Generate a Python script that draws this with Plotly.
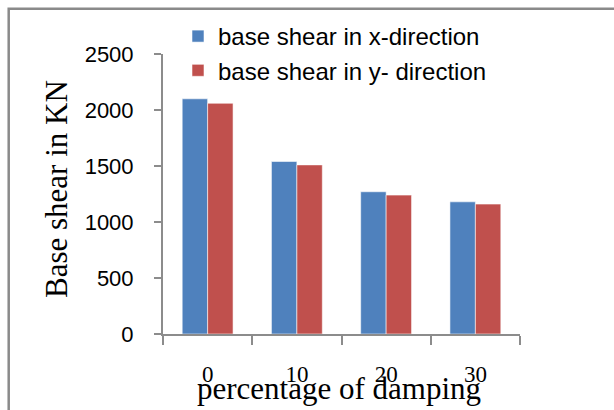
import plotly.graph_objects as go

# Base shear versus percentage of damping
damping = ["0", "10", "20", "30"]
shear_x = [2100, 1540, 1270, 1180]
shear_y = [2060, 1510, 1240, 1160]
y_ticks = [0, 500, 1000, 1500, 2000, 2500]

W, H = 614, 410
L, R, T, B = 163, 94, 54, 76
PW, PH = W - L - R, H - T - B


def px(x):
    return (x - L) / PW


def py(y):
    return (H - B - y) / PH


sans = "Liberation Sans, Arial, sans-serif"
serif = "Liberation Serif, Times New Roman, serif"
axis_grey = "#8c8c8c"

fig = go.Figure()
fig.add_trace(go.Bar(
    x=damping, y=shear_x, name="base shear in x-direction",
    marker=dict(color="#4F81BD", line=dict(color="rgba(255,255,255,0.55)", width=1)),
))
fig.add_trace(go.Bar(
    x=damping, y=shear_y, name="base shear in y- direction",
    marker=dict(color="#C0504D", line=dict(color="rgba(255,255,255,0.55)", width=1)),
))

fig.update_layout(
    width=W, height=H,
    margin=dict(l=L, r=R, t=T, b=B, autoexpand=False),
    paper_bgcolor="white", plot_bgcolor="white",
    barmode="group", bargap=0.43, bargroupgap=0,
    showlegend=True,
    legend=dict(
        x=px(178), y=py(14), xanchor="left", yanchor="top",
        font=dict(family=sans, size=24, color="black"),
        bgcolor="rgba(0,0,0,0)", tracegroupgap=0, itemwidth=30,
    ),
    xaxis=dict(
        type="category", showline=True, linecolor=axis_grey, linewidth=2,
        ticks="outside", tickson="boundaries", ticklen=9, tickwidth=2,
        tickcolor=axis_grey, ticklabelstandoff=18,
        tickfont=dict(family=serif, size=23, color="black"),
        showgrid=False, zeroline=False, automargin=False,
    ),
    yaxis=dict(
        range=[0, 2500], tickvals=y_ticks, showline=True,
        linecolor=axis_grey, linewidth=2, ticks="outside", ticklen=7,
        tickwidth=2, tickcolor=axis_grey, ticklabelstandoff=16,
        tickfont=dict(family=sans, size=22, color="black"),
        showgrid=False, zeroline=False, automargin=False,
    ),
    shapes=[dict(
        type="rect", xref="paper", yref="paper",
        x0=px(8.7), x1=px(640), y0=py(440), y1=py(8.7),
        line=dict(color="#8a8a8a", width=2.5), fillcolor="rgba(0,0,0,0)",
        layer="below",
    )],
    annotations=[
        dict(text="percentage of damping", xref="paper", yref="paper",
             x=px(338.7), y=py(388), xanchor="center", yanchor="middle",
             showarrow=False, font=dict(family=serif, size=31, color="black")),
        dict(text="Base shear in KN", xref="paper", yref="paper",
             x=px(56), y=py(189), xanchor="center", yanchor="middle",
             textangle=-90, showarrow=False,
             font=dict(family=serif, size=31, color="black")),
    ],
)

fig.write_html("out.html")
